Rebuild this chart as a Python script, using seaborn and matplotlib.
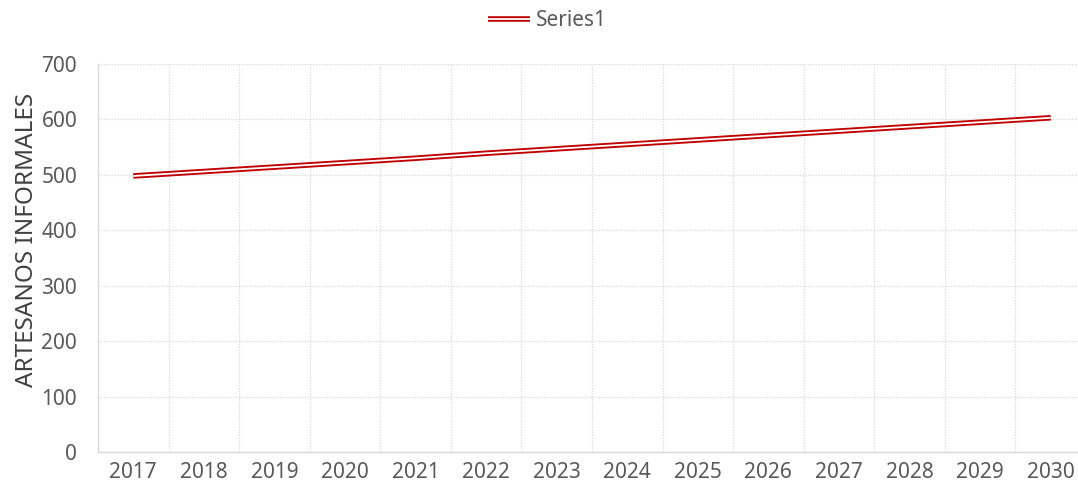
import matplotlib
matplotlib.use("Agg")
import matplotlib.pyplot as plt
import seaborn as sns
import pandas as pd
from matplotlib.ticker import FixedLocator

years = ["2017", "2018", "2019", "2020", "2021", "2022", "2023",
         "2024", "2025", "2026", "2027", "2028", "2029", "2030"]
values = [498, 506, 514, 522, 530, 539, 547, 555, 563, 571, 579, 587, 595, 603]
series_name = "Series1"
y_label = "ARTESANOS INFORMALES"
y_ticks = [0, 100, 200, 300, 400, 500, 600, 700]

df = pd.DataFrame({"year": years, "value": values})

sns.set_theme(style="white")
plt.rcParams["font.family"] = ["Noto Sans", "DejaVu Sans"]

fig = plt.figure(figsize=(10.78, 4.90), dpi=100)
ax = fig.add_axes([98 / 1078, (490 - 452) / 490, 988 / 1078, 388 / 490])

red = "#C00000"
sns.lineplot(data=df, x="year", y="value", ax=ax, color=red, lw=4.0,
             solid_capstyle="butt", legend=False)
sns.lineplot(data=df, x="year", y="value", ax=ax, color="white", lw=1.3,
             solid_capstyle="butt", legend=False)
l_red, l_white = ax.get_lines()[0], ax.get_lines()[1]

ax.set_xlim(-0.5, len(years) - 0.5)
ax.set_ylim(0, 700)
ax.set_yticks(y_ticks)
ax.xaxis.set_minor_locator(FixedLocator([i + 0.5 for i in range(len(years) - 1)]))

grid_kw = dict(color="#D9D9D9", lw=0.9, ls=(0, (1, 1.2)))
ax.yaxis.grid(True, which="major", **grid_kw)
ax.xaxis.grid(True, which="minor", **grid_kw)
ax.xaxis.grid(False, which="major")
ax.set_axisbelow(True)

for s in ["top", "right"]:
    ax.spines[s].set_visible(False)
for s in ["left", "bottom"]:
    ax.spines[s].set_color("#D9D9D9")
    ax.spines[s].set_linewidth(1.0)

ax.tick_params(axis="both", which="both", length=0, labelsize=15, colors="#595959")
ax.tick_params(axis="x", pad=7)
ax.tick_params(axis="y", pad=15)
ax.set_xlabel("")
ax.set_ylabel(y_label, fontsize=17.5, color="#404040")
ax.yaxis.set_label_coords(-0.06, (452 - 240) / 388)

leg = fig.legend([(l_red, l_white)], [series_name], loc="center",
                 bbox_to_anchor=(0.508, 0.958), frameon=False, fontsize=15,
                 handlelength=2.0, handletextpad=0.3)
for t in leg.get_texts():
    t.set_color("#595959")

fig.savefig("out.png", dpi=100)
